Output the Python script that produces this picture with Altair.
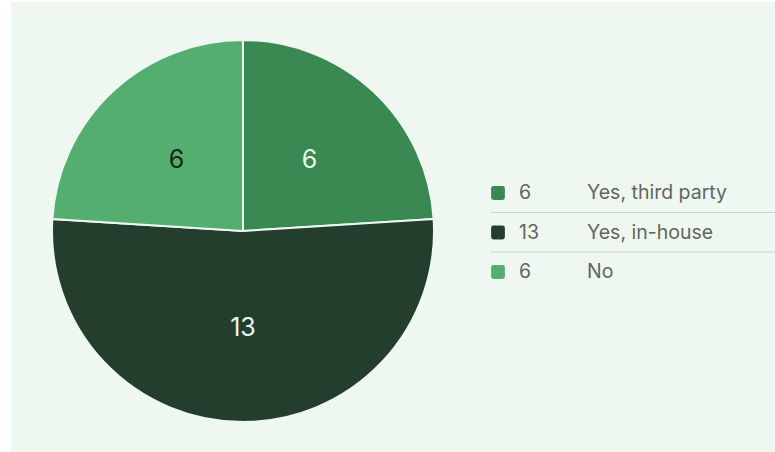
import altair as alt
import pandas as pd

categories = ["Yes, third party", "Yes, in-house", "No"]
values = [6, 13, 6]
colors = ["#3a8953", "#243e2d", "#54ae70"]
label_colors = ["#eaf6ec", "#eaf6ec", "#14271a"]

df = pd.DataFrame({
    "category": categories,
    "value": values,
    "order": list(range(len(categories))),
    "value_str": [str(v) for v in values],
    "lc": label_colors,
})

FONT = "Inter"
color_scale = alt.Scale(domain=categories, range=colors)
row_scale = alt.Scale(type="point", domain=categories, range=[193, 272], padding=0)

bg = alt.Chart(df).mark_rect(color="#eef8f0").encode(
    x=alt.value(11), x2=alt.value(775), y=alt.value(2), y2=alt.value(452)
).transform_filter("datum.order == 0")

pie_base = alt.Chart(df).encode(
    theta=alt.Theta("value:Q", stack=True),
    order=alt.Order("order:Q"),
)

arcs = pie_base.mark_arc(outerRadius=191, stroke="#eef8f0", strokeWidth=2).encode(
    color=alt.Color("category:N", scale=color_scale, legend=None),
    x=alt.value(243), y=alt.value(231),
)

arc_labels = pie_base.mark_text(radius=97, fontSize=25, font=FONT, baseline="middle", align="center").encode(
    text="value_str:N",
    color=alt.Color("lc:N", scale=None),
    x=alt.value(243), y=alt.value(231),
)

leg_sym = alt.Chart(df).mark_point(
    filled=True, size=190, opacity=1,
    shape="M -0.65 -1 L 0.65 -1 Q 1 -1 1 -0.65 L 1 0.65 Q 1 1 0.65 1 L -0.65 1 Q -1 1 -1 0.65 L -1 -0.65 Q -1 -1 -0.65 -1 Z",
).encode(
    x=alt.value(498),
    y=alt.Y("category:N", scale=row_scale, axis=None),
    color=alt.Color("category:N", scale=color_scale, legend=None),
)

leg_val = alt.Chart(df).mark_text(align="left", baseline="middle", fontSize=19.5, font=FONT, color="#616662").encode(
    x=alt.value(519),
    y=alt.Y("category:N", scale=row_scale, axis=None),
    text="value_str:N",
)

leg_lab = alt.Chart(df).mark_text(align="left", baseline="middle", fontSize=19.5, font=FONT, color="#616662").encode(
    x=alt.value(587),
    y=alt.Y("category:N", scale=row_scale, axis=None),
    text="category:N",
)

leg_rules = alt.Chart(df).transform_filter("datum.order > 0").mark_rule(
    color="#c9d2cc", strokeWidth=1, yOffset=-20
).encode(
    x=alt.value(491), x2=alt.value(775),
    y=alt.Y("category:N", scale=row_scale, axis=None),
)

chart = alt.layer(bg, arcs, arc_labels, leg_rules, leg_sym, leg_val, leg_lab).properties(
    width=775, height=452,
    autosize=alt.AutoSizeParams(type="none"),
    padding=0,
    background="#ffffff",
).configure_view(stroke=None)

chart.save("out.html", embed_options={"renderer": "svg", "actions": False})
